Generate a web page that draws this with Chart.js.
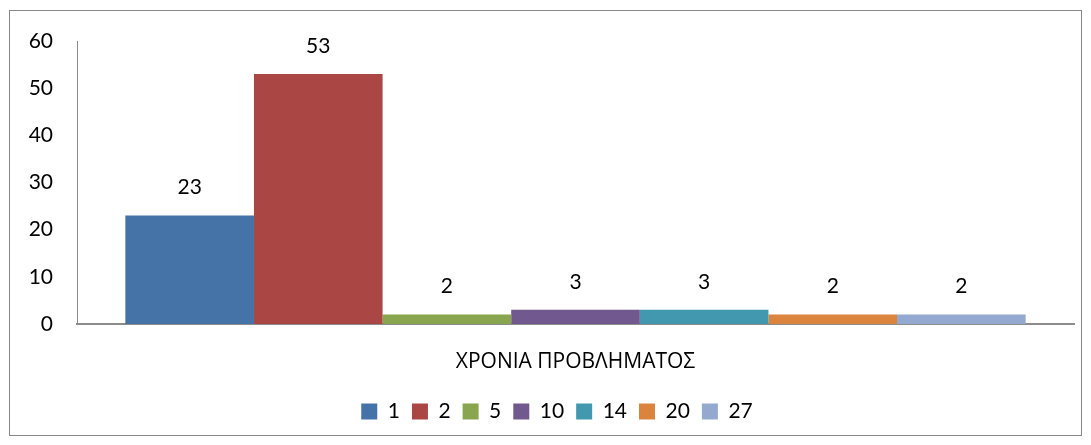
<!DOCTYPE html>
<html lang="el">
<head>
<meta charset="UTF-8">
<title>ΧΡΟΝΙΑ ΠΡΟΒΛΗΜΑΤΟΣ</title>
<script src="https://cdn.jsdelivr.net/npm/chart.js"></script>
<style>
  body { margin: 0; background: #fff; }
  .frame {
    position: absolute;
    left: 9px; top: 10px;
    width: 1073px; height: 426px;
    box-sizing: border-box;
    border: 1px solid #878787;
  }
  canvas { display: block; }
</style>
</head>
<body>
<div class="frame">
  <canvas id="chart" width="1071" height="424"></canvas>
</div>
<script>
  // data
  const categories = ['ΧΡΟΝΙΑ ΠΡΟΒΛΗΜΑΤΟΣ'];
  const seriesNames = ['1', '2', '5', '10', '14', '20', '27'];
  const seriesValues = [23, 53, 2, 3, 3, 2, 2];
  const seriesColors = ['#4572A7', '#AA4643', '#89A54E', '#71588F', '#4198AF', '#DB843D', '#93A9CF'];
  const yTicks = [0, 10, 20, 30, 40, 50, 60];

  const FONT = { family: "Lato, 'Noto Sans', sans-serif", size: 21 };

  // value labels above each bar, like Excel data labels
  const valueLabels = {
    id: 'valueLabels',
    afterDatasetsDraw(chart) {
      const c = chart.ctx;
      c.save();
      c.font = FONT.size + 'px ' + FONT.family;
      c.fillStyle = '#000';
      c.textAlign = 'center';
      c.textBaseline = 'middle';
      chart.data.datasets.forEach((ds, i) => {
        chart.getDatasetMeta(i).data.forEach((bar, j) => {
          c.fillText(String(ds.data[j]), bar.x, bar.y - 28);
        });
      });
      c.restore();
    }
  };

  // Excel centres the legend a bit right of the canvas centre
  const legendShift = {
    id: 'legendShift',
    afterLayout(chart) {
      chart.legend.left += 15;
      chart.legend.right += 15;
    }
  };

  const datasets = seriesNames.map((name, i) => ({
    label: name,
    data: [seriesValues[i]],
    backgroundColor: seriesColors[i],
    borderWidth: 0,
    categoryPercentage: 0.903,
    barPercentage: 1.0
  }));

  new Chart(document.getElementById('chart'), {
    type: 'bar',
    data: { labels: categories, datasets: datasets },
    plugins: [valueLabels, legendShift],
    options: {
      responsive: false,
      animation: false,
      layout: { padding: { top: 30, right: 7, left: 0, bottom: 3 } },
      plugins: {
        tooltip: { enabled: false },
        legend: {
          position: 'bottom',
          labels: {
            font: FONT,
            color: '#000',
            boxWidth: 16,
            boxHeight: 16,
            padding: 12
          }
        }
      },
      scales: {
        x: {
          grid: { display: false, drawTicks: false },
          border: { color: '#8c8c8c', width: 2 },
          ticks: { font: { family: "'Open Sans', sans-serif", size: 21 }, color: '#000', padding: 25 },
          afterFit(scale) {
            scale.height = 65;
            scale.paddingLeft = 0;
            scale.paddingRight = 0;
          }
        },
        y: {
          min: 0, max: 60,
          grid: { display: false, drawTicks: false },
          border: { color: '#8c8c8c', width: 1 },
          ticks: {
            font: FONT, color: '#000', padding: 24,
            stepSize: 10,
            callback: (v) => yTicks.includes(v) ? String(v) : ''
          },
          afterFit(scale) {
            scale.width = 67;
            scale.paddingTop = 0;
            scale.paddingBottom = 0;
          }
        }
      }
    }
  });
</script>
</body>
</html>
